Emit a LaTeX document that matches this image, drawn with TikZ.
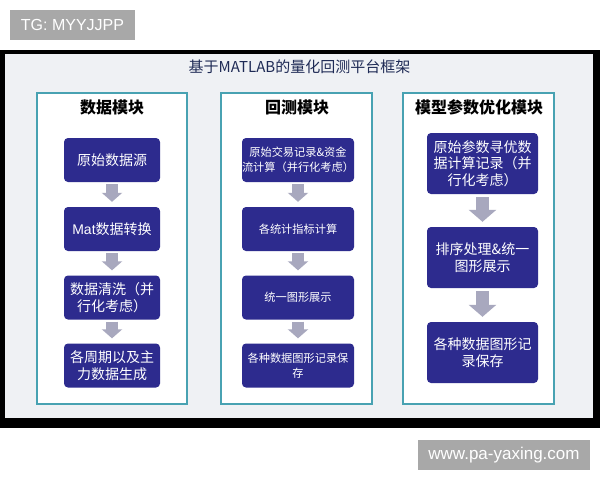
\documentclass[tikz,border=0pt]{standalone}
\usepackage{fontspec}
\setmainfont{Liberation Sans}
\newfontfamily\cjk{Noto Sans CJK SC}
\usetikzlibrary{arrows.meta}
\definecolor{wmgray}{RGB}{168,168,168}
\definecolor{panelbg}{RGB}{239,241,244}
\definecolor{colborder}{RGB}{72,162,178}
\definecolor{boxblue}{RGB}{45,43,142}
\definecolor{arrgray}{RGB}{168,168,190}
\definecolor{titlenavy}{RGB}{30,42,85}
\tikzset{
  wm/.style={fill=wmgray, text=white, inner sep=0pt, font=\fontsize{16}{18}\selectfont},
  colbox/.style={draw=colborder, line width=1.6pt, fill=white, inner sep=0pt},
  coltitle/.style={font=\cjk\bfseries\fontsize{16}{18}\selectfont, text=black, inner sep=0pt},
  bluebox/.style={fill=boxblue, rounded corners=4pt, text=white, align=center, inner sep=0pt},
  bigtxt/.style={font=\cjk\fontsize{14}{16.5}\selectfont},
  smalltxt/.style={font=\cjk\fontsize{11.2}{15}\selectfont},
  smallarrow/.style={line width=12pt, arrgray, -{Triangle[width=20pt,length=9pt]}},
  bigarrow/.style={line width=12.5pt, arrgray, -{Triangle[width=27pt,length=12pt]}}
}
\begin{document}
\begin{tikzpicture}[x=1pt,y=-1pt]
\useasboundingbox (0,0) rectangle (600,480);
\fill[white] (0,0) rectangle (600,480);
% watermarks
\node[wm, minimum width=125pt, minimum height=30pt] (tg) at (72.5,25) {TG: MYYJJPP};
\node[wm, minimum width=172pt, minimum height=30pt, font=\fontsize{17}{19}\selectfont] (site) at (504,455) {www.pa-yaxing.com};
% frame and panel
\fill[black] (0,50) rectangle (600,428);
\fill[panelbg] (5,54) rectangle (593,418);
\node[font=\cjk\fontsize{15}{17}\selectfont, text=titlenavy, inner sep=0pt] (title) at (299.5,67) {基于MATLAB的量化回测平台框架};
% columns
\node[colbox, minimum width=150pt, minimum height=311pt] (col1) at (112,248.5) {};
\node[colbox, minimum width=151pt, minimum height=311pt] (col2) at (296.5,248.5) {};
\node[colbox, minimum width=151pt, minimum height=311pt] (col3) at (478.5,248.5) {};
\node[coltitle] (t1) at (112,107) {数据模块};
\node[coltitle] (t2) at (297,107) {回测模块};
\node[coltitle] (t3) at (479,107) {模型参数优化模块};
% column 1
\node[bluebox, bigtxt, minimum width=96pt, minimum height=44pt] (a1) at (112,160) {原始数据源};
\node[bluebox, bigtxt, minimum width=96pt, minimum height=44pt] (a2) at (112,229) {{\fontspec{Liberation Sans}Mat}数据转换};
\node[bluebox, bigtxt, minimum width=96pt, minimum height=44pt] (a3) at (112,297.5) {数据清洗（并\\行化考虑）};
\node[bluebox, bigtxt, minimum width=96pt, minimum height=44pt] (a4) at (112,365.5) {各周期以及主\\力数据生成};
% column 2
\node[bluebox, smalltxt, minimum width=112pt, minimum height=44pt] (b1) at (298,160) {原始交易记录\&资金\\流计算（并行化考虑）};
\node[bluebox, smalltxt, minimum width=112pt, minimum height=44pt] (b2) at (298,229) {各统计指标计算};
\node[bluebox, smalltxt, minimum width=112pt, minimum height=44pt] (b3) at (298,297.5) {统一图形展示};
\node[bluebox, smalltxt, minimum width=112pt, minimum height=44pt] (b4) at (298,365.5) {各种数据图形记录保\\存};
% column 3
\node[bluebox, bigtxt, minimum width=111pt, minimum height=61pt] (c1) at (482.5,163.5) {原始参数寻优数\\据计算记录（并\\行化考虑）};
\node[bluebox, bigtxt, minimum width=111pt, minimum height=61pt] (c2) at (482.5,257.5) {排序处理\&统一\\图形展示};
\node[bluebox, bigtxt, minimum width=111pt, minimum height=61pt] (c3) at (482.5,352.5) {各种数据图形记\\录保存};
% arrows
\foreach \p/\q in {a1/a2,a2/a3,a3/a4,b1/b2,b2/b3,b3/b4}{
  \draw[smallarrow] ([yshift=-2pt]\p.south) -- ([yshift=5pt]\q.north);
}
\foreach \p/\q in {c1/c2,c2/c3}{
  \draw[bigarrow] ([yshift=-3pt]\p.south) -- ([yshift=5pt]\q.north);
}
\end{tikzpicture}
\end{document}
